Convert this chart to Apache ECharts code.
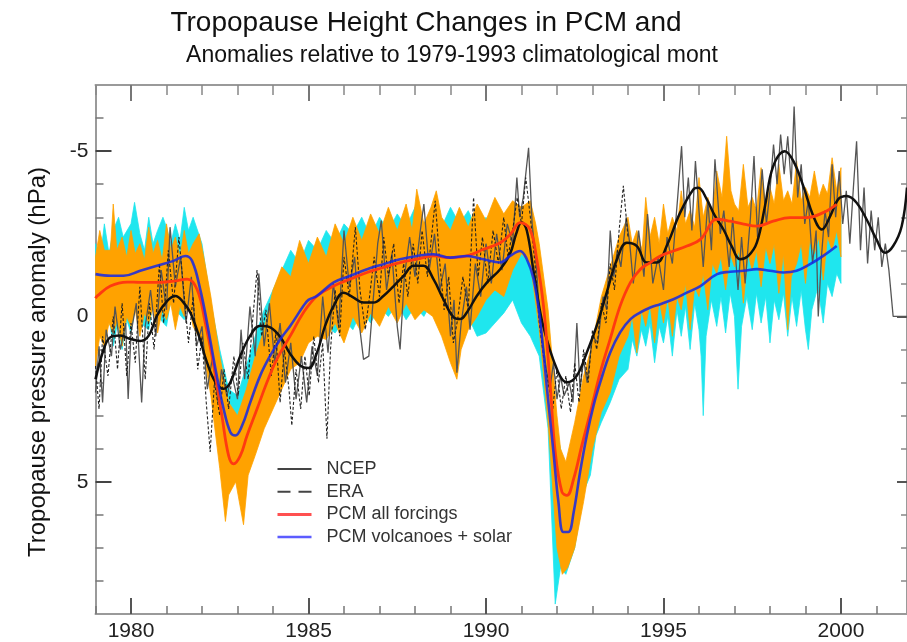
<!DOCTYPE html>
<html>
<head>
<meta charset="utf-8">
<script src="https://cdn.jsdelivr.net/npm/echarts@6/dist/echarts.min.js"></script>
<style>html,body{margin:0;padding:0;background:#fff}#c{width:907px;height:642px}</style>
</head>
<body>
<div id="c"></div>
<script>
// ---------- data (years, anomaly in hPa; axis inverted) ----------
const majorYears = [1980, 1985, 1990, 1995, 2000];
const minorYears = [1979,1981,1982,1983,1984,1986,1987,1988,1989,1991,1992,1993,1994,1996,1997,1998,1999,2001];
const majorY = [-5, 0, 5];
const minorY = [-6,-4,-3,-2,-1,1,2,3,4,6,7,8];

const ncepSmooth = [[1979.0,1.9],[1979.23,1.0],[1979.42,0.63],[1979.7,0.58],[1979.98,0.68],[1980.26,0.74],[1980.5,0.58],[1980.73,-0.02],[1981.02,-0.47],[1981.25,-0.62],[1981.48,-0.42],[1981.67,-0.12],[1981.91,0.58],[1982.14,1.39],[1982.38,1.99],[1982.61,2.19],[1982.8,1.99],[1983.08,1.19],[1983.36,0.58],[1983.64,0.28],[1983.92,0.33],[1984.21,0.63],[1984.49,1.14],[1984.77,1.49],[1985.0,1.56],[1985.24,1.09],[1985.47,0.28],[1985.71,-0.32],[1985.99,-0.72],[1986.27,-0.57],[1986.55,-0.42],[1986.83,-0.42],[1987.11,-0.62],[1987.4,-0.92],[1987.68,-1.23],[1987.96,-1.53],[1988.24,-1.53],[1988.52,-1.13],[1988.8,-0.52],[1989.09,0.03],[1989.27,0.08],[1989.46,-0.12],[1989.74,-0.62],[1990.03,-1.03],[1990.4,-1.43],[1990.68,-1.9],[1990.85,-2.5],[1991.0,-2.85],[1991.15,-2.6],[1991.35,-1.3],[1991.61,0.28],[1992.03,1.68],[1992.28,1.99],[1992.56,1.79],[1992.84,1.09],[1993.12,0.28],[1993.4,-0.72],[1993.69,-1.73],[1993.97,-2.23],[1994.25,-2.13],[1994.53,-1.63],[1994.81,-1.63],[1995.09,-2.13],[1995.47,-3.14],[1995.84,-3.84],[1995.98,-3.89],[1996.22,-3.54],[1996.45,-3.04],[1996.69,-2.63],[1996.92,-2.13],[1997.16,-1.73],[1997.39,-1.83],[1997.63,-2.23],[1997.86,-3.34],[1998.09,-4.54],[1998.42,-5.0],[1998.66,-4.7],[1998.94,-3.94],[1999.22,-3.04],[1999.46,-2.63],[1999.7,-3.04],[1999.92,-3.54],[2000.16,-3.64],[2000.44,-3.44],[2000.72,-2.94],[2001.0,-2.33],[2001.24,-1.93],[2001.47,-2.13],[2001.71,-2.73],[2001.86,-3.9]];

const allSmooth = [[1979.0,-0.55],[1979.05,-0.62],[1979.42,-0.92],[1979.89,-1.04],[1980.26,-1.03],[1980.73,-1.03],[1981.2,-1.07],[1981.58,-1.13],[1981.86,-0.82],[1982.09,0.18],[1982.33,1.49],[1982.56,3.0],[1982.75,4.21],[1982.89,4.46],[1983.08,4.21],[1983.27,3.6],[1983.55,2.8],[1983.83,1.99],[1984.11,1.29],[1984.49,0.58],[1984.86,-0.12],[1985.24,-0.62],[1985.71,-0.92],[1986.18,-1.13],[1986.65,-1.33],[1987.11,-1.48],[1987.58,-1.63],[1988.05,-1.73],[1988.52,-1.83],[1988.99,-1.78],[1989.46,-1.83],[1989.93,-2.03],[1990.4,-2.23],[1990.7,-2.5],[1990.96,-2.84],[1991.24,-2.63],[1991.43,-1.73],[1991.62,-0.32],[1991.81,2.09],[1991.95,4.1],[1992.14,5.31],[1992.28,5.41],[1992.47,4.91],[1992.7,3.9],[1992.94,2.9],[1993.22,1.69],[1993.5,0.68],[1993.78,-0.32],[1994.07,-1.03],[1994.35,-1.43],[1994.63,-1.63],[1994.91,-1.83],[1995.28,-1.98],[1995.66,-2.13],[1996.04,-2.33],[1996.51,-2.94],[1996.88,-2.88],[1997.26,-2.79],[1997.63,-2.73],[1998.09,-2.88],[1998.56,-2.99],[1999.03,-2.99],[1999.5,-3.14],[1999.88,-3.39]];

const volSmooth = [[1979.0,-1.28],[1979.42,-1.23],[1979.79,-1.23],[1980.26,-1.38],[1980.73,-1.53],[1981.2,-1.68],[1981.53,-1.83],[1981.72,-1.68],[1981.95,-0.82],[1982.14,0.18],[1982.38,1.59],[1982.61,2.8],[1982.8,3.5],[1982.94,3.6],[1983.13,3.3],[1983.36,2.6],[1983.64,1.79],[1983.92,1.19],[1984.21,0.68],[1984.49,0.28],[1984.86,-0.32],[1985.0,-0.5],[1985.24,-0.62],[1985.71,-1.03],[1986.18,-1.23],[1986.65,-1.43],[1987.11,-1.58],[1987.58,-1.73],[1988.05,-1.83],[1988.52,-1.88],[1988.99,-1.78],[1989.46,-1.83],[1989.93,-1.73],[1990.4,-1.63],[1990.68,-1.83],[1990.96,-1.98],[1991.15,-1.73],[1991.34,-1.13],[1991.52,0.08],[1991.71,2.09],[1991.9,4.1],[1992.04,5.61],[1992.18,6.52],[1992.32,6.52],[1992.47,5.92],[1992.65,4.71],[1992.84,3.6],[1993.03,2.7],[1993.22,1.99],[1993.5,1.09],[1993.78,0.48],[1994.07,0.08],[1994.35,-0.12],[1994.63,-0.27],[1994.91,-0.37],[1995.28,-0.52],[1995.66,-0.72],[1996.04,-0.92],[1996.51,-1.28],[1996.88,-1.35],[1997.26,-1.38],[1997.63,-1.43],[1998.0,-1.38],[1998.38,-1.33],[1998.75,-1.38],[1999.13,-1.58],[1999.5,-1.83],[1999.88,-2.13]];

const allTop = [[1979.0,-1.8],[1979.12,-2.6],[1979.25,-2.0],[1979.42,-2.0],[1979.5,-3.4],[1979.6,-2.0],[1979.75,-2.4],[1979.88,-1.8],[1980.0,-2.6],[1980.12,-1.9],[1980.25,-2.2],[1980.38,-1.7],[1980.5,-2.7],[1980.62,-1.9],[1980.75,-2.3],[1980.88,-1.7],[1981.0,-2.8],[1981.12,-2.0],[1981.25,-2.4],[1981.38,-1.8],[1981.5,-2.6],[1981.62,-1.9],[1981.75,-2.2],[1981.92,-2.5],[1982.05,-1.8],[1982.25,-0.6],[1982.5,1.2],[1982.75,2.6],[1983.0,3.0],[1983.25,2.2],[1983.5,1.2],[1983.75,0.4],[1984.0,-0.8],[1984.25,-1.5],[1984.5,-1.2],[1984.75,-2.3],[1985.0,-1.6],[1985.25,-2.4],[1985.5,-1.8],[1985.75,-2.8],[1986.0,-2.2],[1986.25,-3.0],[1986.5,-2.3],[1986.75,-3.1],[1987.0,-2.5],[1987.25,-3.3],[1987.5,-2.6],[1987.75,-3.4],[1987.92,-2.6],[1988.05,-3.85],[1988.25,-2.8],[1988.45,-3.3],[1988.6,-3.8],[1988.75,-3.0],[1989.0,-2.6],[1989.25,-3.3],[1989.5,-2.7],[1989.75,-3.4],[1990.0,-2.9],[1990.25,-3.6],[1990.5,-3.1],[1990.75,-3.5],[1991.0,-3.3],[1991.25,-3.5],[1991.4,-2.8],[1991.5,-2.2],[1991.75,-0.2],[1992.0,3.0],[1992.1,4.0],[1992.25,4.4],[1992.5,3.2],[1992.75,1.8],[1993.0,0.8],[1993.25,-0.6],[1993.5,-1.5],[1993.75,-2.4],[1994.0,-3.0],[1994.12,-2.2],[1994.25,-2.6],[1994.4,-2.0],[1994.5,-3.6],[1994.62,-2.4],[1994.75,-3.0],[1994.88,-2.2],[1995.0,-3.4],[1995.12,-2.5],[1995.25,-3.0],[1995.38,-2.6],[1995.5,-3.8],[1995.62,-2.8],[1995.75,-3.2],[1995.88,-2.7],[1996.0,-4.2],[1996.12,-3.0],[1996.25,-3.6],[1996.38,-3.1],[1996.5,-4.4],[1996.65,-3.6],[1996.78,-5.45],[1996.9,-3.8],[1997.0,-3.4],[1997.12,-3.2],[1997.25,-4.6],[1997.38,-3.3],[1997.5,-3.6],[1997.62,-3.2],[1997.75,-4.5],[1997.88,-3.3],[1998.0,-3.9],[1998.12,-3.4],[1998.25,-4.6],[1998.38,-3.5],[1998.5,-3.8],[1998.62,-3.4],[1998.75,-4.7],[1998.88,-3.5],[1999.0,-3.9],[1999.12,-3.6],[1999.25,-4.4],[1999.38,-3.6],[1999.5,-4.0],[1999.62,-3.7],[1999.75,-4.8],[1999.88,-3.8],[2000.0,-4.5]];

const allBottom = [[1979.0,1.5],[1979.12,0.6],[1979.25,0.9],[1979.38,0.2],[1979.5,0.5],[1979.62,0.1],[1979.75,0.9],[1979.88,0.0],[1980.0,0.3],[1980.12,-0.2],[1980.25,0.6],[1980.38,-0.1],[1980.5,0.2],[1980.62,-0.3],[1980.75,0.5],[1980.88,-0.2],[1981.0,0.1],[1981.12,-0.4],[1981.25,0.4],[1981.38,-0.3],[1981.5,0.0],[1981.62,-0.4],[1981.75,0.3],[1982.0,0.8],[1982.25,2.4],[1982.5,4.6],[1982.66,6.2],[1982.75,5.4],[1982.95,5.0],[1983.05,5.6],[1983.17,6.3],[1983.3,4.8],[1983.5,4.2],[1983.75,3.4],[1984.0,2.8],[1984.25,2.2],[1984.5,1.6],[1984.75,1.4],[1985.0,0.8],[1985.25,0.6],[1985.5,0.7],[1985.75,0.2],[1986.0,0.8],[1986.25,0.0],[1986.5,0.5],[1986.75,-0.1],[1987.0,0.3],[1987.25,-0.3],[1987.5,0.2],[1987.75,-0.4],[1988.0,0.1],[1988.25,-0.2],[1988.5,0.0],[1988.75,0.6],[1989.0,1.4],[1989.18,1.9],[1989.3,1.0],[1989.5,0.4],[1989.75,0.0],[1990.0,-0.5],[1990.25,-0.8],[1990.5,-0.6],[1990.75,-1.4],[1991.0,-1.9],[1991.25,-1.6],[1991.5,0.4],[1991.75,3.2],[1992.0,7.0],[1992.15,7.8],[1992.3,7.6],[1992.5,7.0],[1992.75,5.6],[1993.0,4.0],[1993.25,2.9],[1993.5,2.3],[1993.75,1.2],[1994.0,0.6],[1994.12,0.0],[1994.25,1.1],[1994.38,-0.2],[1994.5,0.3],[1994.62,-0.4],[1994.75,0.8],[1994.88,-0.5],[1995.0,0.2],[1995.12,-0.6],[1995.25,0.6],[1995.38,-0.6],[1995.5,-0.2],[1995.62,-1.0],[1995.75,0.4],[1995.88,-0.9],[1996.0,-0.6],[1996.12,-1.3],[1996.25,-0.2],[1996.38,-1.6],[1996.5,-1.3],[1996.62,-1.8],[1996.75,-0.8],[1996.88,-1.9],[1997.0,-1.5],[1997.12,-2.0],[1997.25,-0.4],[1997.38,-1.9],[1997.5,-1.4],[1997.62,-2.0],[1997.75,-0.9],[1997.88,-2.1],[1998.0,-1.6],[1998.12,-2.2],[1998.25,-0.7],[1998.38,-1.9],[1998.5,0.4],[1998.6,-1.2],[1998.75,-1.6],[1998.88,-2.2],[1999.0,-1.0],[1999.12,-2.3],[1999.25,-1.9],[1999.38,-2.4],[1999.5,-1.1],[1999.62,-2.4],[1999.75,-2.0],[1999.88,-2.6],[2000.0,-1.8]];

const volTop = [[1979.0,-2.2],[1979.12,-1.6],[1979.25,-2.8],[1979.38,-1.9],[1979.5,-2.6],[1979.65,-3.0],[1979.78,-2.4],[1980.0,-2.8],[1980.1,-3.45],[1980.25,-2.5],[1980.38,-2.0],[1980.5,-3.0],[1980.62,-2.2],[1980.75,-2.6],[1980.9,-3.0],[1981.0,-2.7],[1981.12,-2.2],[1981.25,-2.8],[1981.38,-2.3],[1981.5,-3.3],[1981.62,-2.6],[1981.75,-3.0],[1982.0,-2.2],[1982.25,-0.4],[1982.5,1.0],[1982.75,2.2],[1983.0,2.4],[1983.25,1.5],[1983.5,0.6],[1983.75,-0.2],[1984.0,-0.8],[1984.25,-1.4],[1984.5,-2.0],[1984.75,-1.6],[1985.0,-2.3],[1985.25,-2.0],[1985.5,-2.6],[1985.75,-2.2],[1986.0,-2.8],[1986.25,-2.5],[1986.5,-3.0],[1986.75,-2.4],[1987.0,-3.0],[1987.25,-2.6],[1987.5,-3.1],[1987.75,-2.7],[1988.0,-3.3],[1988.25,-2.8],[1988.5,-3.2],[1988.75,-2.7],[1989.0,-3.3],[1989.25,-2.8],[1989.5,-3.2],[1989.75,-2.6],[1990.0,-3.0],[1990.25,-2.5],[1990.5,-2.8],[1990.75,-2.7],[1991.0,-2.6],[1991.25,-2.4],[1991.5,-1.5],[1991.75,0.2],[1992.0,3.5],[1992.25,4.8],[1992.5,4.2],[1992.75,2.8],[1993.0,1.6],[1993.25,0.9],[1993.5,0.0],[1993.75,-0.8],[1994.0,-1.0],[1994.25,-1.4],[1994.5,-1.3],[1994.75,-1.6],[1995.0,-1.4],[1995.25,-1.8],[1995.5,-1.7],[1995.75,-2.1],[1996.0,-2.0],[1996.25,-2.3],[1996.5,-2.1],[1996.75,-2.5],[1997.0,-2.2],[1997.25,-2.6],[1997.5,-2.3],[1997.75,-2.6],[1998.0,-2.4],[1998.25,-2.7],[1998.5,-2.3],[1998.75,-2.6],[1999.0,-2.5],[1999.25,-2.9],[1999.5,-2.8],[1999.75,-3.2],[2000.0,-2.9]];

const volBottom = [[1979.0,0.8],[1979.12,0.2],[1979.25,0.6],[1979.38,0.0],[1979.5,0.9],[1979.62,0.2],[1979.75,1.0],[1979.88,0.1],[1980.0,0.5],[1980.12,-0.3],[1980.25,0.2],[1980.5,0.4],[1980.62,-0.4],[1980.75,0.0],[1981.0,0.3],[1981.12,-0.5],[1981.25,-0.2],[1981.5,0.1],[1981.62,-0.6],[1981.75,-0.3],[1982.0,0.7],[1982.25,2.2],[1982.5,4.2],[1982.66,5.0],[1982.8,4.6],[1983.0,4.6],[1983.25,4.0],[1983.5,3.4],[1983.75,2.8],[1984.0,2.0],[1984.25,1.6],[1984.5,1.2],[1984.75,0.6],[1985.0,0.5],[1985.25,0.4],[1985.5,0.3],[1985.75,0.5],[1986.0,0.1],[1986.25,0.4],[1986.5,-0.2],[1986.75,0.2],[1987.0,-0.3],[1987.25,0.0],[1987.5,-0.4],[1987.75,0.1],[1988.0,-0.3],[1988.25,0.0],[1988.5,-0.5],[1988.75,-0.1],[1989.0,0.5],[1989.25,0.3],[1989.5,0.0],[1989.75,0.6],[1990.0,0.5],[1990.25,0.2],[1990.5,-0.1],[1990.75,-0.5],[1991.0,0.2],[1991.25,0.6],[1991.5,1.2],[1991.75,3.4],[1991.95,8.7],[1992.1,7.6],[1992.25,7.8],[1992.5,7.0],[1992.75,5.3],[1992.94,4.8],[1993.1,3.6],[1993.25,3.2],[1993.5,2.6],[1993.75,1.9],[1994.0,1.6],[1994.12,0.7],[1994.25,1.2],[1994.38,0.4],[1994.5,0.9],[1994.62,0.2],[1994.75,1.4],[1994.88,0.3],[1995.0,0.8],[1995.12,0.0],[1995.25,1.2],[1995.38,-0.2],[1995.5,0.6],[1995.62,-0.3],[1995.75,1.0],[1995.88,-0.4],[1996.0,0.4],[1996.06,1.2],[1996.12,3.0],[1996.2,0.6],[1996.35,-0.5],[1996.5,0.3],[1996.62,-0.6],[1996.75,0.5],[1996.88,-0.7],[1997.0,0.0],[1997.1,2.2],[1997.2,0.3],[1997.35,-0.6],[1997.5,0.4],[1997.62,-0.7],[1997.75,0.2],[1997.88,-0.6],[1998.0,0.8],[1998.12,-0.5],[1998.25,0.1],[1998.38,-0.7],[1998.5,0.6],[1998.62,-0.6],[1998.75,0.3],[1998.88,-0.8],[1999.0,0.4],[1999.08,1.0],[1999.18,-0.2],[1999.35,-0.9],[1999.5,0.2],[1999.62,-1.0],[1999.75,-0.6],[1999.88,-1.3],[2000.0,-1.0]];

const ncep = [[1979.0,2.3],[1979.1,0.9],[1979.2,2.6],[1979.3,0.4],[1979.45,1.2],[1979.55,-0.3],[1979.7,1.0],[1979.85,0.2],[1979.92,2.5],[1980.0,0.5],[1980.15,-0.4],[1980.3,2.6],[1980.4,0.3],[1980.55,-0.8],[1980.7,0.6],[1980.85,-1.4],[1981.0,-0.2],[1981.1,-2.7],[1981.25,-0.9],[1981.4,-1.8],[1981.55,0.2],[1981.7,-1.2],[1981.85,0.9],[1982.0,0.3],[1982.15,2.2],[1982.3,1.2],[1982.45,2.6],[1982.55,1.6],[1982.7,2.4],[1982.85,1.8],[1983.0,2.5],[1983.1,0.4],[1983.2,1.9],[1983.35,-0.3],[1983.5,1.2],[1983.6,-1.3],[1983.75,0.9],[1983.9,-0.4],[1984.05,1.4],[1984.2,0.2],[1984.35,2.0],[1984.5,0.8],[1984.65,2.5],[1984.8,1.2],[1984.95,2.6],[1985.1,0.9],[1985.25,1.8],[1985.4,-0.6],[1985.55,1.1],[1985.7,-1.0],[1985.85,0.3],[1986.0,-2.6],[1986.15,-0.9],[1986.3,-1.8],[1986.45,0.4],[1986.55,1.3],[1986.7,1.2],[1986.8,-0.2],[1986.95,-2.2],[1987.05,-2.9],[1987.2,-0.8],[1987.35,-1.9],[1987.5,0.3],[1987.58,1.0],[1987.7,-1.2],[1987.85,-2.4],[1988.0,-1.2],[1988.15,-2.6],[1988.25,-3.4],[1988.4,-1.4],[1988.55,-2.5],[1988.7,-0.8],[1988.85,-1.6],[1989.0,0.6],[1989.1,-0.5],[1989.18,1.7],[1989.3,0.2],[1989.45,-0.9],[1989.55,0.4],[1989.7,-1.6],[1989.85,-0.6],[1990.0,-2.2],[1990.15,-1.0],[1990.3,-2.5],[1990.45,-1.4],[1990.6,-2.8],[1990.75,-2.2],[1990.87,-4.2],[1990.95,-3.0],[1991.05,-3.6],[1991.2,-5.1],[1991.3,-2.8],[1991.4,-1.8],[1991.5,-0.2],[1991.6,0.8],[1991.7,1.6],[1991.8,2.2],[1991.9,1.4],[1992.0,2.5],[1992.1,1.8],[1992.2,2.4],[1992.35,2.0],[1992.45,2.6],[1992.56,0.2],[1992.65,2.2],[1992.75,1.3],[1992.85,2.0],[1993.0,0.6],[1993.15,0.8],[1993.3,-0.6],[1993.4,-0.2],[1993.5,-2.6],[1993.6,-1.2],[1993.7,-2.0],[1993.8,-1.5],[1993.95,-3.0],[1994.05,-2.2],[1994.15,-1.0],[1994.3,-2.6],[1994.45,-1.2],[1994.55,-3.1],[1994.7,-1.0],[1994.85,-1.8],[1995.0,-0.8],[1995.1,-2.4],[1995.25,-1.6],[1995.4,-3.6],[1995.51,-5.15],[1995.6,-3.0],[1995.7,-4.2],[1995.8,-2.6],[1995.9,-4.7],[1996.0,-3.2],[1996.12,-1.5],[1996.25,-3.5],[1996.35,-2.0],[1996.45,-4.75],[1996.6,-2.5],[1996.7,-3.2],[1996.85,-1.5],[1996.95,-3.0],[1997.1,-0.8],[1997.2,-2.4],[1997.3,-1.0],[1997.45,-3.0],[1997.55,-4.85],[1997.65,-2.4],[1997.78,-4.45],[1997.9,-2.8],[1998.0,-3.8],[1998.1,-5.2],[1998.2,-4.0],[1998.3,-5.5],[1998.4,-4.3],[1998.5,-5.45],[1998.6,-4.0],[1998.68,-6.35],[1998.78,-3.6],[1998.88,-4.6],[1998.98,-2.8],[1999.08,-3.5],[1999.2,-1.6],[1999.3,-2.6],[1999.36,0.0],[1999.45,-1.8],[1999.55,-3.2],[1999.65,-2.4],[1999.75,-4.6],[1999.85,-3.0],[1999.95,-4.4],[2000.05,-2.8],[2000.15,-3.8],[2000.25,-2.2],[2000.35,-3.9],[2000.44,-5.3],[2000.55,-2.0],[2000.65,-3.9],[2000.75,-1.6],[2000.85,-3.2],[2000.95,-2.0],[2001.05,-3.0],[2001.15,-1.5],[2001.25,-2.2],[2001.35,-1.4],[2001.47,0.0],[2001.86,0.0]];

const era = [[1979.0,1.5],[1979.1,2.8],[1979.2,0.6],[1979.35,1.8],[1979.5,0.0],[1979.62,1.6],[1979.75,-0.4],[1979.88,1.8],[1980.0,0.2],[1980.12,1.4],[1980.25,-0.9],[1980.4,1.9],[1980.52,-0.4],[1980.65,1.0],[1980.8,-1.6],[1980.92,0.2],[1981.05,-2.0],[1981.2,-0.4],[1981.35,-2.4],[1981.5,-0.6],[1981.62,0.8],[1981.75,-0.6],[1981.88,1.6],[1982.0,0.6],[1982.12,2.6],[1982.23,4.1],[1982.35,2.0],[1982.5,3.0],[1982.62,1.6],[1982.75,2.8],[1982.9,1.2],[1983.02,2.4],[1983.15,0.8],[1983.3,1.9],[1983.42,0.2],[1983.55,-1.4],[1983.68,0.6],[1983.8,-0.2],[1983.95,1.8],[1984.08,0.5],[1984.2,2.6],[1984.32,1.0],[1984.45,2.2],[1984.53,3.3],[1984.65,1.6],[1984.78,2.8],[1984.9,1.2],[1985.02,2.4],[1985.15,0.6],[1985.28,2.0],[1985.4,0.8],[1985.52,3.7],[1985.62,1.0],[1985.75,-0.8],[1985.88,0.6],[1986.0,-1.8],[1986.15,-0.6],[1986.32,-2.7],[1986.45,-0.8],[1986.6,0.4],[1986.72,-0.6],[1986.85,-1.8],[1987.0,-0.6],[1987.12,-2.4],[1987.25,-1.2],[1987.4,-2.2],[1987.55,-0.4],[1987.68,-1.6],[1987.8,-0.6],[1987.95,-2.2],[1988.08,-1.0],[1988.2,-2.6],[1988.35,-1.2],[1988.57,-3.5],[1988.7,-1.6],[1988.82,-0.2],[1988.95,-1.2],[1989.08,0.8],[1989.2,0.1],[1989.35,-1.2],[1989.5,-0.2],[1989.65,-3.6],[1989.78,-1.2],[1989.9,-2.4],[1990.05,-1.0],[1990.2,-2.6],[1990.35,-1.6],[1990.5,-3.0],[1990.62,-1.8],[1990.75,-2.6],[1990.88,-3.6],[1991.0,-2.8],[1991.12,-4.2],[1991.25,-3.0],[1991.38,-1.6],[1991.5,0.2],[1991.62,1.2],[1991.75,2.0],[1991.88,2.8],[1992.0,1.6],[1992.12,2.8],[1992.25,1.8],[1992.38,2.9],[1992.5,1.4],[1992.62,2.6],[1992.75,1.0],[1992.88,2.0],[1993.0,0.4],[1993.12,1.0],[1993.25,-0.4],[1993.38,0.2],[1993.5,-1.6],[1993.62,-0.8],[1993.75,-2.6],[1993.87,-3.95],[1994.0,-2.4]];

// ---------- chart ----------
const FONT = '"Liberation Sans", Arial, Helvetica, sans-serif';
const X_MIN = 1979, X_MAX = 2001.86, Y_MIN = -7, Y_MAX = 9;

function xAx(pos, ticks, len, showLine, showLabel, w, col) {
  return {
    type: 'value', min: X_MIN, max: X_MAX, position: pos,
    axisLine: {show: showLine, onZero: false, lineStyle: {color: '#9a9a9a', width: 2}},
    axisTick: {show: true, inside: true, length: len, customValues: ticks, lineStyle: {color: col, width: w}},
    axisLabel: {show: showLabel, customValues: ticks, margin: 7, fontSize: 21, color: '#222', fontFamily: FONT, formatter: v => String(v)},
    splitLine: {show: false}
  };
}
function yAx(pos, ticks, len, showLine, showLabel, w, col) {
  return {
    type: 'value', min: Y_MIN, max: Y_MAX, inverse: true, position: pos,
    axisLine: {show: showLine, onZero: false, lineStyle: {color: '#9a9a9a', width: 2}},
    axisTick: {show: true, inside: true, length: len, customValues: ticks, lineStyle: {color: col, width: w}},
    axisLabel: {show: showLabel, customValues: ticks, margin: 7, fontSize: 21, color: '#222', fontFamily: FONT, formatter: v => String(v)},
    splitLine: {show: false}
  };
}

function band(name, top, bottom, color, z) {
  return {
    name: name, type: 'custom', coordinateSystem: 'cartesian2d', xAxisIndex: 0, yAxisIndex: 0,
    silent: true, z: z, clip: true,
    data: [[top[0][0], top[0][1]]],
    renderItem: function (params, api) {
      const pts = top.map(p => api.coord(p)).concat(bottom.slice().reverse().map(p => api.coord(p)));
      return {type: 'polygon', shape: {points: pts}, style: {fill: color, stroke: color, lineWidth: 0.8}};
    }
  };
}

const hideSym = {opacity: 0};
const chart = echarts.init(document.getElementById('c'), null, {renderer: 'canvas'});
chart.setOption({
  animation: false,
  backgroundColor: '#fff',
  grid: {left: 95.5, top: 85, right: 0, bottom: 26, containLabel: false},
  xAxis: [
    xAx('bottom', majorYears, 16, true, true, 2, '#555'),
    xAx('bottom', minorYears, 8, false, false, 1.5, '#777'),
    xAx('top', majorYears, 16, true, false, 2, '#777'),
    xAx('top', minorYears, 10, false, false, 1.5, '#888')
  ],
  yAxis: [
    yAx('left', majorY, 16, true, true, 2, '#444'),
    yAx('left', minorY, 8, false, false, 1.5, '#777'),
    yAx('right', majorY, 10, true, false, 2, '#555'),
    yAx('right', minorY, 6, false, false, 1.5, '#888')
  ],
  legend: {
    orient: 'vertical', left: 271, top: 455, padding: 5,
    itemWidth: 34, itemHeight: 14, itemGap: 4.7, selectedMode: false,
    textStyle: {fontSize: 18, color: '#333', fontFamily: FONT, padding: [0, 0, 0, 10]},
    data: [
      {name: 'NCEP', itemStyle: hideSym, lineStyle: {color: '#444', width: 2}},
      {name: 'ERA', itemStyle: hideSym, lineStyle: {color: '#444', width: 2, type: [13, 8]}},
      {name: 'PCM all forcings', itemStyle: hideSym, lineStyle: {color: '#ff5050', width: 3}},
      {name: 'PCM volcanoes + solar', itemStyle: hideSym, lineStyle: {color: '#4040ff', width: 2.5}}
    ]
  },
  graphic: [
    {type: 'text', style: {text: 'Tropopause Height Changes in PCM and', x: 426, y: 23, align: 'center', verticalAlign: 'middle', fontSize: 28, fill: '#111', fontFamily: FONT}},
    {type: 'text', style: {text: 'Anomalies relative to 1979-1993 climatological mont', x: 452, y: 56, align: 'center', verticalAlign: 'middle', fontSize: 23, fill: '#111', fontFamily: FONT}},
    {type: 'text', x: 38, y: 362, rotation: Math.PI / 2, style: {text: 'Tropopause pressure anomaly (hPa)', x: 0, y: 0, align: 'center', verticalAlign: 'middle', fontSize: 24, fill: '#111', fontFamily: FONT}}
  ],
  series: [
    band('volBand', volTop, volBottom, '#1fe6ee', 1),
    band('allBand', allTop, allBottom, '#ffa200', 2),
    {name: 'NCEP', type: 'line', data: ncep, symbol: 'none', z: 3, itemStyle: {color: '#555'}, lineStyle: {color: '#555', width: 1.3}, silent: true},
    {name: 'ERA', type: 'line', data: era, symbol: 'none', z: 3, itemStyle: {color: '#222'}, lineStyle: {color: '#222', width: 1.1, type: [3, 2]}, silent: true},
    {name: 'NCEP smooth', type: 'line', data: ncepSmooth, symbol: 'none', smooth: 0.4, z: 4, lineStyle: {color: '#111', width: 2.5}, silent: true},
    {name: 'PCM all forcings', type: 'line', data: allSmooth, symbol: 'none', smooth: 0.4, z: 5, itemStyle: {color: '#ff3a10'}, lineStyle: {color: '#ff3a10', width: 2.8}, silent: true},
    {name: 'PCM volcanoes + solar', type: 'line', data: volSmooth, symbol: 'none', smooth: 0.4, z: 6, itemStyle: {color: '#1428e6'}, lineStyle: {color: '#1428e6', width: 2.6, opacity: 0.85}, silent: true}
  ]
});
</script>
</body>
</html>
